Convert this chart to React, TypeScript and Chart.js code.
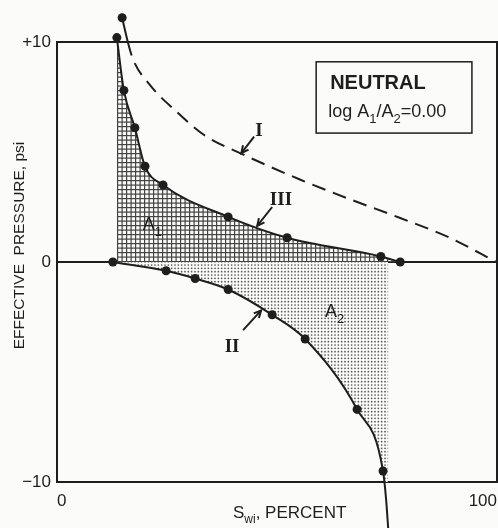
import React, { useEffect, useRef } from "react";
import { Chart, registerables } from "chart.js";
Chart.register(...registerables);

// Curve I (dashed, primary drainage)
const curveIx = [14.8, 16.1, 17.3, 21.1, 26.8, 33.6, 41.6, 55.2, 66.6, 78.0, 89.3, 99.8];
const curveIy = [11.1, 10.0, 9.2, 8.05, 6.9, 5.75, 4.95, 3.75, 2.85, 2.0, 1.1, 0];
// Curve II (forced imbibition) – last three read where the curve runs off the frame
const curveIIx = [12.7, 24.8, 31.4, 38.9, 48.9, 56.4, 68.2, 74.1, 74.8, 75.3];
const curveIIy = [0, -0.4, -0.75, -1.25, -2.4, -3.5, -6.7, -9.5, -10.8, -12.2];
const curveIIMarked = 8;
// Curve III (secondary drainage)
const curveIIIx = [13.6, 15.2, 17.7, 20.0, 24.1, 38.9, 52.3, 73.6, 78.0];
const curveIIIy = [10.2, 7.8, 6.1, 4.35, 3.5, 2.05, 1.1, 0.25, 0];

const yMin = -10;
const yMax = 10;
const yTicks = [-10, 0, 10];
const yTickLabels = ["\u221210", "0", "+10"];
const xMin = 0;
const xMax = 100;
const xTicks = [0, 100];
const xTickLabels = ["0", "100"];

const INK = "#1e1e1e";
const BG = "#fbfbf9";
const FAM = "'Liberation Sans', Arial, sans-serif";
const SERIF = "'Liberation Serif', 'Times New Roman', serif";

function makeHatch(): CanvasPattern | string {
  const c = document.createElement("canvas");
  c.width = 9; c.height = 9;
  const g = c.getContext("2d");
  if (!g) return "#888";
  g.fillStyle = BG; g.fillRect(0, 0, 9, 9);
  g.fillStyle = "#444";
  g.fillRect(0, 0, 1.2, 9); g.fillRect(4.5, 0, 1.2, 9);
  g.fillRect(0, 0, 9, 1.2); g.fillRect(0, 4.5, 9, 1.2);
  return g.createPattern(c, "repeat") || "#888";
}

function makeDots(): CanvasPattern | string {
  const c = document.createElement("canvas");
  c.width = 10; c.height = 10;
  const g = c.getContext("2d");
  if (!g) return "#ccc";
  g.fillStyle = BG; g.fillRect(0, 0, 10, 10);
  g.fillStyle = "#555";
  const p = [1.67, 5, 8.33];
  for (const x of p) for (const y of p) { g.beginPath(); g.arc(x, y, 0.85, 0, Math.PI * 2); g.fill(); }
  return g.createPattern(c, "repeat") || "#ccc";
}

type Part = { t: string; sub?: boolean };
function drawRich(ctx: CanvasRenderingContext2D, parts: Part[], x: number, y: number, size: number, weight = "normal", family = FAM) {
  let cx = x;
  for (const p of parts) {
    const s = p.sub ? Math.round(size * 0.72) : size;
    ctx.font = `${weight} ${s}px ${family}`;
    ctx.fillText(p.t, cx, p.sub ? y + size * 0.32 : y);
    cx += ctx.measureText(p.t).width;
  }
}

function arrow(ctx: CanvasRenderingContext2D, x0: number, y0: number, x1: number, y1: number) {
  ctx.beginPath(); ctx.moveTo(x0, y0); ctx.lineTo(x1, y1); ctx.stroke();
  const a = Math.atan2(y1 - y0, x1 - x0);
  const L = 8;
  ctx.beginPath();
  ctx.moveTo(x1 - L * Math.cos(a - 0.45), y1 - L * Math.sin(a - 0.45));
  ctx.lineTo(x1, y1);
  ctx.lineTo(x1 - L * Math.cos(a + 0.45), y1 - L * Math.sin(a + 0.45));
  ctx.stroke();
}

const bgPlugin = {
  id: "bg",
  beforeDraw(chart: any) {
    const { ctx, width, height } = chart;
    ctx.save(); ctx.fillStyle = BG; ctx.fillRect(0, 0, width, height); ctx.restore();
  },
  beforeDatasetsDraw(chart: any) {
    const { ctx } = chart;
    const xs = chart.scales.x, ys = chart.scales.y;
    const l = xs.getPixelForValue(xMin), r = xs.getPixelForValue(xMax);
    const t = ys.getPixelForValue(yMax), b = ys.getPixelForValue(yMin);
    ctx.save(); ctx.strokeStyle = INK; ctx.lineWidth = 2;
    ctx.strokeRect(l, t, r - l, b - t);
    ctx.restore();
  },
};

const annPlugin = {
  id: "ann",
  afterDatasetsDraw(chart: any) {
    const { ctx } = chart;
    const xs = chart.scales.x, ys = chart.scales.y;
    const X = (v: number) => xs.getPixelForValue(v);
    const Y = (v: number) => ys.getPixelForValue(v);
    ctx.save();
    ctx.fillStyle = INK; ctx.strokeStyle = INK;
    ctx.textBaseline = "alphabetic"; ctx.textAlign = "left";

    // NEUTRAL box
    const bx0 = X(58.9), by0 = Y(9.1), bx1 = X(94.3), by1 = Y(5.86);
    ctx.fillStyle = BG; ctx.fillRect(bx0, by0, bx1 - bx0, by1 - by0);
    ctx.fillStyle = INK; ctx.lineWidth = 1.5;
    ctx.strokeRect(bx0, by0, bx1 - bx0, by1 - by0);
    drawRich(ctx, [{ t: "NEUTRAL" }], bx0 + 14, by0 + 27, 20, "bold");
    drawRich(ctx, [{ t: "log A" }, { t: "1", sub: true }, { t: "/A" }, { t: "2", sub: true }, { t: "=0.00" }], bx0 + 12, by0 + 55, 18);

    // roman numerals
    ctx.textAlign = "center";
    ctx.font = `bold 19px ${SERIF}`;
    ctx.fillText("I", X(45.9), Y(5.75));
    ctx.fillText("III", X(50.9), Y(2.6));
    ctx.fillText("II", X(39.8), Y(-4.1));
    ctx.textAlign = "left";

    ctx.lineWidth = 2;
    arrow(ctx, X(44.8), Y(5.7), X(41.9), Y(4.95));
    arrow(ctx, X(48.9), Y(2.5), X(45.5), Y(1.64));
    arrow(ctx, X(42.3), Y(-3.1), X(46.4), Y(-2.2));

    // area labels
    drawRich(ctx, [{ t: "A" }, { t: "1", sub: true }], X(19.5), Y(1.45), 18);
    drawRich(ctx, [{ t: "A" }, { t: "2", sub: true }], X(60.9), Y(-2.5), 18);

    // x axis title
    drawRich(ctx, [{ t: "S" }, { t: "wi", sub: true }, { t: ", PERCENT" }], X(40), Y(yMin) + 36, 17);
    ctx.restore();
  },
};

export default function App() {
  const ref = useRef<HTMLCanvasElement>(null);
  useEffect(() => {
    if (!ref.current) return;
    Chart.defaults.font.family = FAM;
    const hatch = makeHatch();
    const dots = makeDots();
    const common = {
      borderColor: INK,
      borderWidth: 2,
      pointBackgroundColor: INK,
      pointBorderColor: INK,
      pointBorderWidth: 0,
      cubicInterpolationMode: "monotone" as const,
      clip: false as any,
    };
    const noPad = (s: any) => { s.paddingTop = 0; s.paddingBottom = 0; s.paddingLeft = 0; s.paddingRight = 0; };
    const chart = new Chart(ref.current, {
      type: "line",
      data: {
        datasets: [
          {
            ...common,
            label: "I",
            data: curveIx.map((x, i) => ({ x, y: curveIy[i] })),
            pointRadius: curveIx.map((_, i) => (i === 0 ? 4.5 : 0)),
            fill: false,
            segment: { borderDash: (c: any) => (c.p0DataIndex === 0 ? [] : [14, 8]) },
          } as any,
          {
            ...common,
            label: "III",
            data: curveIIIx.map((x, i) => ({ x, y: curveIIIy[i] })),
            pointRadius: 4.5,
            fill: "origin",
            backgroundColor: hatch,
          } as any,
          {
            ...common,
            label: "II",
            data: curveIIx.map((x, i) => ({ x, y: curveIIy[i] })),
            pointRadius: curveIIx.map((_, i) => (i < curveIIMarked ? 4.5 : 0)),
            fill: "origin",
            backgroundColor: dots,
          } as any,
        ],
      },
      options: {
        responsive: false,
        animation: false,
        layout: { autoPadding: false, padding: { top: 9, right: 1, left: 0, bottom: 0 } },
        plugins: { legend: { display: false }, tooltip: { enabled: false } },
        scales: {
          x: {
            type: "linear",
            min: xMin,
            max: xMax,
            afterBuildTicks: (s: any) => { s.ticks = xTicks.map((v) => ({ value: v })); },
            afterFit: (s: any) => { s.height = 46; noPad(s); },
            ticks: {
              callback: (_v: any, i: number) => xTickLabels[i],
              align: "inner",
              maxRotation: 0,
              padding: 9,
              color: INK,
              font: { size: 17 },
            },
            grid: { display: false, drawTicks: false },
            border: { display: false },
          },
          y: {
            type: "linear",
            min: yMin,
            max: yMax + 1.5,
            afterBuildTicks: (s: any) => { s.ticks = yTicks.map((v) => ({ value: v })); },
            afterFit: (s: any) => { s.width = 57; noPad(s); },
            ticks: {
              callback: (_v: any, i: number) => yTickLabels[i],
              padding: 6,
              color: INK,
              font: { size: 17 },
            },
            grid: {
              drawTicks: false,
              color: (c: any) => (c.tick && c.tick.value === 0 ? INK : "rgba(0,0,0,0)"),
              lineWidth: 2,
            },
            border: { display: false },
            title: {
              display: true,
              text: "EFFECTIVE  PRESSURE, psi",
              color: INK,
              font: { size: 15.5 },
              padding: { top: 10, bottom: 0 },
            },
          },
        },
      } as any,
      plugins: [bgPlugin, annPlugin],
    });
    return () => chart.destroy();
  }, []);
  return (
    <div style={{ position: "fixed", left: 0, top: 0, width: 498, height: 528, background: BG }}>
      <canvas ref={ref} width={498} height={528} style={{ display: "block" }} />
    </div>
  );
}
